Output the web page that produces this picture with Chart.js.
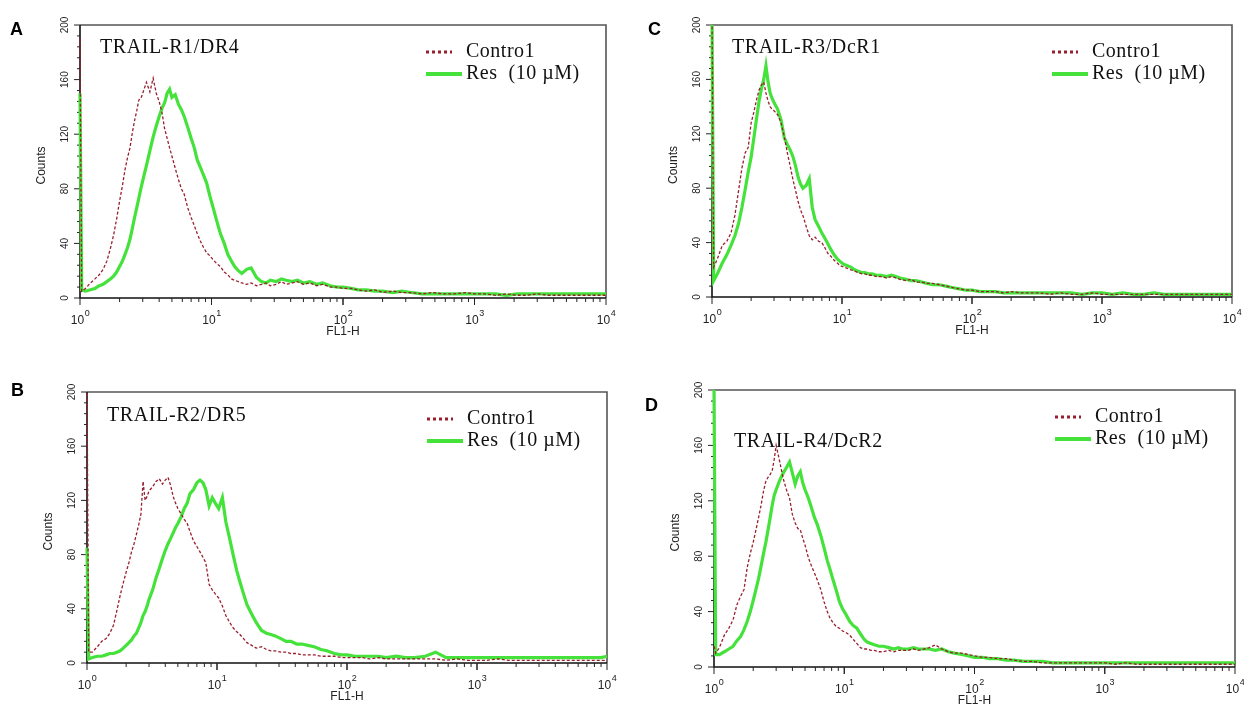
<!DOCTYPE html>
<html>
<head>
<meta charset="utf-8">
<title>TRAIL receptors flow cytometry</title>
<script src="https://cdn.jsdelivr.net/npm/chart.js@4.4.1/dist/chart.umd.min.js"></script>
<style>
    body { margin: 0; background: #fff; width: 1244px; height: 713px; overflow: hidden; position: relative; }
    canvas { position: absolute; }
</style>
</head>
<body>
<canvas id="panelA" width="625" height="340" style="left:0;top:0"></canvas>
<canvas id="panelB" width="625" height="348" style="left:0;top:365px"></canvas>
<canvas id="panelC" width="619" height="340" style="left:625px;top:0"></canvas>
<canvas id="panelD" width="619" height="348" style="left:625px;top:365px"></canvas>
<script>
// FL1-H channel values (shared x positions for every histogram)
const fl1 = [1, 1.03, 1.1, 1.2, 1.3, 1.4, 1.5, 1.6, 1.7, 1.8, 1.9,
    2.0, 2.1, 2.2, 2.3, 2.4, 2.5, 2.6, 2.7, 2.8, 2.9,
    3.0, 3.2, 3.4, 3.6, 3.8, 4.0, 4.2, 4.4, 4.6, 4.8,
    5.0, 5.3, 5.6, 5.9, 6.2, 6.6, 7.0, 7.4, 7.8, 8.2, 8.7, 9.2, 9.7,
    10.3, 11, 11.7, 12.5, 13.3, 14.2, 15, 16, 17, 18.5,
    20, 22, 24, 26, 28, 31, 34, 37, 41, 45, 50, 56, 63, 70, 80, 90,
    100, 115, 130, 150, 175, 200, 240, 280, 330, 400, 480, 580, 700, 850,
    1000, 1200, 1450, 1750, 2100, 2500, 3000, 3600, 4300, 5200, 6200, 7500, 9000, 10000];

// A: TRAIL-R1/DR4
const dr4Control = [190, 5, 7, 11, 14, 17, 21, 27, 36, 46, 58,
    71, 82, 94, 103, 110, 121, 130, 137, 145, 146,
    150, 158, 151, 161, 150, 144, 136, 124, 117, 110,
    104, 95, 87, 80, 76, 66, 59, 53, 47, 42, 37, 33, 31,
    28, 25, 23, 19, 17, 14, 13, 12, 11, 10,
    11, 9, 10, 11, 9, 10, 12, 10, 11, 12, 10, 11, 9, 10, 8, 8,
    7, 7, 6, 5, 6, 4, 5, 4, 4, 3, 4, 3, 3, 4,
    3, 3, 2, 3, 2, 2, 3, 2, 2, 2, 2, 2, 2, 2];
const dr4Res = [150, 6, 5, 6, 7, 9, 10, 12, 14, 16, 19,
    23, 27, 32, 37, 43, 51, 59, 66, 73, 80,
    86, 97, 108, 118, 126, 133, 139, 143, 150, 153,
    147, 149, 142, 138, 133, 125, 117, 110, 101, 96, 90, 84, 75,
    66, 56, 47, 40, 32, 27, 23, 20, 18, 21,
    22, 15, 12, 11, 13, 12, 14, 13, 12, 13, 11, 12, 10, 11, 9, 8,
    8, 7, 6, 6, 5, 5, 4, 5, 4, 3, 3, 3, 3, 3,
    3, 3, 3, 2, 3, 3, 3, 3, 3, 3, 3, 3, 3, 3];

// B: TRAIL-R2/DR5
const dr5Control = [210, 8, 8, 12, 16, 18, 22, 28, 39, 50, 59,
    67, 74, 82, 88, 95, 102, 110, 134, 120, 123,
    127, 130, 134, 136, 132, 135, 137, 131, 123, 118,
    114, 110, 106, 103, 97, 90, 86, 82, 78, 74, 58, 54, 51,
    48, 42, 35, 30, 26, 23, 21, 18, 15, 13,
    11, 12, 10, 9, 9, 8, 8, 7, 7, 6, 6, 6, 5, 5, 5, 4,
    4, 4, 4, 3, 4, 3, 3, 3, 3, 3, 3, 2, 3, 2,
    2, 2, 3, 2, 2, 2, 2, 2, 2, 2, 2, 2, 2, 2];
const dr5Res = [85, 3, 4, 5, 5, 6, 7, 7, 8, 9, 11,
    13, 15, 17, 20, 22, 26, 30, 35, 38, 42,
    47, 54, 63, 70, 77, 83, 88, 92, 96, 100,
    103, 108, 114, 118, 125, 128, 133, 135, 133, 128, 116, 122, 118,
    114, 122, 104, 92, 80, 68, 60, 51, 43, 36,
    30, 24, 22, 21, 20, 18, 16, 16, 14, 14, 13, 12, 10, 9, 7, 6,
    6, 5, 5, 5, 5, 4, 5, 4, 4, 5, 8, 4, 4, 4,
    4, 4, 4, 4, 4, 4, 4, 4, 4, 4, 4, 4, 4, 5];

// C: TRAIL-R3/DcR1
const dcr1Control = [210, 22, 28, 38, 41, 47, 60, 78, 95, 106, 110,
    128, 136, 145, 152, 156, 158, 150, 144, 140, 138,
    137, 134, 128, 118, 106, 96, 86, 78, 70, 64,
    60, 52, 45, 42, 44, 41, 40, 36, 32, 30, 27, 25, 23,
    22, 21, 20, 19, 18, 17, 17, 16, 16, 15,
    15, 14, 15, 14, 13, 12, 13, 11, 11, 10, 10, 9, 8, 7, 6, 5,
    5, 4, 4, 4, 3, 4, 3, 3, 3, 2, 3, 2, 2, 3,
    2, 2, 2, 2, 2, 2, 2, 2, 2, 2, 2, 2, 2, 2];
const dcr1Res = [210, 12, 17, 25, 31, 38, 45, 54, 66, 79, 92,
    103, 117, 131, 144, 153, 160, 170, 158, 150, 146,
    143, 138, 130, 117, 112, 108, 103, 96, 88, 83,
    80, 82, 87, 66, 57, 52, 47, 43, 39, 35, 31, 28, 26,
    24, 23, 22, 20, 19, 18, 18, 17, 17, 16,
    16, 15, 16, 15, 14, 13, 12, 12, 11, 10, 9, 9, 8, 7, 6, 5,
    5, 4, 4, 4, 3, 3, 3, 3, 3, 3, 3, 3, 2, 3,
    3, 2, 3, 2, 2, 3, 2, 2, 2, 2, 2, 2, 2, 2];

// D: TRAIL-R4/DcR2
const dcr2Control = [15, 10, 14, 23, 28, 34, 45, 51, 56, 72, 82,
    90, 99, 108, 117, 127, 134, 137, 139, 142, 150,
    160, 148, 136, 128, 122, 110, 104, 100, 99, 93,
    88, 79, 73, 68, 63, 56, 47, 40, 35, 32, 29, 28, 26,
    25, 23, 20, 17, 14, 13, 13, 12, 12, 11,
    11, 12, 11, 12, 12, 12, 13, 12, 13, 14, 16, 13, 11, 10, 10, 9,
    8, 7, 7, 6, 6, 5, 4, 4, 3, 3, 3, 3, 3, 3,
    3, 2, 3, 2, 2, 2, 2, 2, 2, 2, 2, 2, 2, 2];
const dcr2Res = [205, 9, 9, 11, 13, 15, 19, 22, 27, 33, 40,
    48, 56, 64, 73, 82, 90, 99, 108, 117, 124,
    128, 135, 140, 144, 148, 140, 132, 138, 141, 133,
    128, 122, 115, 108, 103, 95, 86, 77, 70, 63, 55, 47, 42,
    38, 33, 30, 28, 24, 20, 18, 17, 16, 15,
    15, 14, 13, 14, 13, 13, 14, 13, 13, 13, 12, 13, 11, 10, 9, 8,
    7, 7, 6, 6, 5, 5, 4, 4, 4, 3, 3, 3, 3, 3,
    3, 3, 3, 3, 3, 3, 3, 3, 3, 3, 3, 3, 3, 3];

// axis tick labels
const countTicks = [0, 40, 80, 120, 160, 200];
const decadeTicks = [1, 10, 100, 1000, 10000];
const decadeExps = ['0', '1', '2', '3', '4'];

const seriesLabels = ['Contro1', 'Res  (10 \u00b5M)'];

const SANS = '"Liberation Sans", Arial, sans-serif';
const SERIF = '"Liberation Serif", "Times New Roman", serif';

function toPoints(counts) {
    return fl1.map((x, i) => ({ x: x, y: counts[i] }));
}

// frame and tick marks, drawn under the histograms
const facsFrame = {
    id: 'facsFrame',
    beforeDatasetsDraw(chart) {
        const ctx = chart.ctx;
        const { left, right, top, bottom } = chart.chartArea;
        const xs = chart.scales.x;
        const ys = chart.scales.y;
        ctx.save();
        ctx.lineWidth = 1.6;
        ctx.strokeStyle = '#555';
        ctx.beginPath();
        ctx.moveTo(left, top);
        ctx.lineTo(right, top);
        ctx.lineTo(right, bottom);
        ctx.stroke();
        ctx.strokeStyle = '#111';
        ctx.beginPath();
        ctx.moveTo(left, top);
        ctx.lineTo(left, bottom);
        ctx.lineTo(right, bottom);
        ctx.stroke();

        ctx.lineWidth = 1;
        ctx.strokeStyle = '#222';
        for (let v = 0; v <= 200; v += 8) {
            const py = ys.getPixelForValue(v);
            const len = v % 40 === 0 ? 6 : 3;
            ctx.beginPath();
            ctx.moveTo(left - len, py);
            ctx.lineTo(left, py);
            ctx.stroke();
        }
        for (let d = 0; d < 4; d++) {
            for (let k = 1; k <= 10; k++) {
                const v = k * Math.pow(10, d);
                const px = xs.getPixelForValue(v);
                const len = (k === 1 || k === 10) ? 7 : 4;
                ctx.beginPath();
                ctx.moveTo(px, bottom);
                ctx.lineTo(px, bottom + len);
                ctx.stroke();
            }
        }
        ctx.restore();
    }
};

// tick labels, axis titles, panel title and legend
const facsText = {
    id: 'facsText',
    afterDraw(chart, args, opts) {
        const ctx = chart.ctx;
        const { left, right, top, bottom } = chart.chartArea;
        const xs = chart.scales.x;
        const ys = chart.scales.y;
        ctx.save();
        ctx.fillStyle = '#222';

        // y tick labels (rotated)
        ctx.font = '10px ' + SANS;
        ctx.textAlign = 'center';
        ctx.textBaseline = 'middle';
        countTicks.forEach(v => {
            const py = ys.getPixelForValue(v);
            ctx.save();
            ctx.translate(left - 15, py);
            ctx.rotate(-Math.PI / 2);
            ctx.fillText(String(v), 0, 0);
            ctx.restore();
        });

        // y title
        ctx.font = '12px ' + SANS;
        ctx.save();
        ctx.translate(left - 38, (top + bottom) / 2 + 4);
        ctx.rotate(-Math.PI / 2);
        ctx.fillText('Counts', 0, 0);
        ctx.restore();

        // x tick labels 10^n
        ctx.textAlign = 'left';
        ctx.textBaseline = 'alphabetic';
        decadeTicks.forEach((v, i) => {
            const px = xs.getPixelForValue(v);
            ctx.font = '12px ' + SANS;
            const w1 = ctx.measureText('10').width;
            ctx.font = '9px ' + SANS;
            const w2 = ctx.measureText(decadeExps[i]).width;
            const x0 = px - (w1 + w2) / 2;
            ctx.font = '12px ' + SANS;
            ctx.fillText('10', x0, bottom + 26);
            ctx.font = '9px ' + SANS;
            ctx.fillText(decadeExps[i], x0 + w1 + 0.5, bottom + 18);
        });

        // x title
        ctx.font = '12px ' + SANS;
        ctx.textAlign = 'center';
        ctx.fillText('FL1-H', (left + right) / 2, bottom + 37);

        // panel letter
        ctx.fillStyle = '#000';
        ctx.font = 'bold 18px ' + SANS;
        ctx.textAlign = 'left';
        ctx.fillText(opts.letter, opts.letterX, opts.letterY);

        // panel title
        ctx.fillStyle = '#111';
        ctx.font = '20px ' + SERIF;
        ctx.letterSpacing = '0.6px';
        ctx.fillText(opts.title, left + 20, top + opts.titleDy);

        // legend
        const ds = chart.data.datasets;
        const lx = right - 180;
        const tx = right - 140;
        const rows = [top + 27, top + 49];
        ctx.textBaseline = 'middle';
        ctx.letterSpacing = '0.5px';
        ds.forEach((d, i) => {
            const cy = rows[i];
            ctx.save();
            ctx.strokeStyle = d.borderColor;
            if (i === 0) {
                ctx.lineWidth = 3;
                ctx.setLineDash([3, 3]);
                ctx.beginPath();
                ctx.moveTo(lx, cy);
                ctx.lineTo(lx + 26, cy);
                ctx.stroke();
            } else {
                ctx.lineWidth = 4;
                ctx.beginPath();
                ctx.moveTo(lx, cy);
                ctx.lineTo(lx + 36, cy);
                ctx.stroke();
            }
            ctx.restore();
            ctx.fillText(d.label, tx, cy);
        });
        ctx.restore();
    }
};

function drawPanel(id, title, control, res, pad, letter, letterX, letterY, titleDy) {
    const ctx = document.getElementById(id).getContext('2d');
    return new Chart(ctx, {
        type: 'line',
        data: {
            datasets: [{
                label: seriesLabels[0],
                data: toPoints(control),
                borderColor: '#9a1f2e',
                borderWidth: 1.3,
                borderDash: [3, 2],
                fill: false,
                clip: { left: 4, top: 0, right: 2, bottom: 2 }
            }, {
                label: seriesLabels[1],
                data: toPoints(res),
                borderColor: '#44e23a',
                borderWidth: 3.2,
                fill: false,
                clip: { left: 4, top: 0, right: 2, bottom: 2 }
            }]
        },
        options: {
            responsive: false,
            animation: false,
            layout: { padding: pad },
            elements: { point: { radius: 0 }, line: { tension: 0 } },
            plugins: {
                legend: { display: false },
                tooltip: { enabled: false },
                facsText: { title, letter, letterX, letterY, titleDy }
            },
            scales: {
                x: { type: 'logarithmic', min: 1, max: 10000, display: false },
                y: { type: 'linear', min: 0, max: 200, display: false }
            }
        },
        plugins: [facsFrame, facsText]
    });
}

drawPanel('panelA', 'TRAIL-R1/DR4', dr4Control, dr4Res,
    { left: 80, top: 25, right: 19, bottom: 42 }, 'A', 10, 35, 28);
drawPanel('panelB', 'TRAIL-R2/DR5', dr5Control, dr5Res,
    { left: 87, top: 27, right: 18, bottom: 50 }, 'B', 11, 31, 29);
drawPanel('panelC', 'TRAIL-R3/DcR1', dcr1Control, dcr1Res,
    { left: 87, top: 25, right: 12, bottom: 43 }, 'C', 23, 35, 28);
drawPanel('panelD', 'TRAIL-R4/DcR2', dcr2Control, dcr2Res,
    { left: 89, top: 25, right: 9, bottom: 46 }, 'D', 20, 46, 57);
</script>
</body>
</html>
